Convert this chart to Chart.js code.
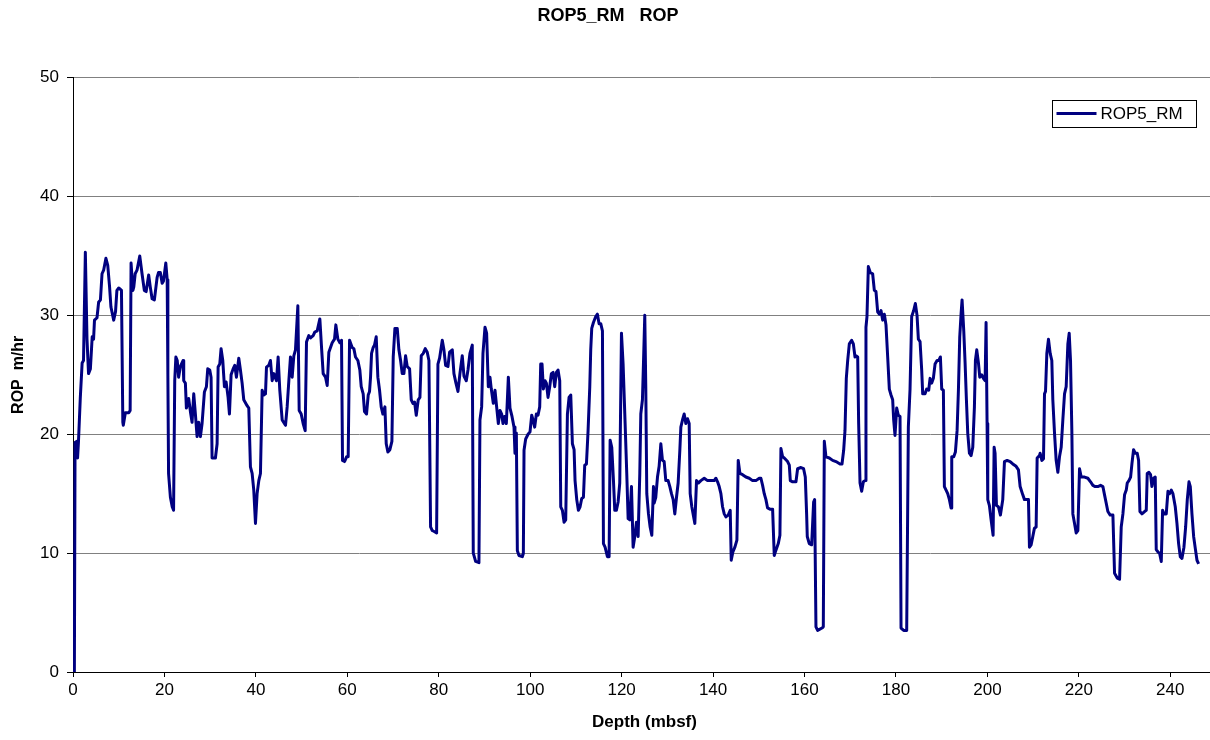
<!DOCTYPE html>
<html>
<head>
<meta charset="utf-8">
<title>ROP5_RM ROP</title>
<script src="https://cdn.jsdelivr.net/npm/chart.js@4.4.0/dist/chart.umd.min.js"></script>
<style>
  html, body { margin: 0; padding: 0; overflow: hidden; background: #fff; }
  #wrap { width: 1216px; height: 740px; }
</style>
</head>
<body>
<div id="wrap"><canvas id="ropChart" width="1216" height="740"></canvas></div>
<script>
// depth (mbsf) and ROP (m/hr)
const depth = [
  0.3, 0.45, 0.8, 1.0, 1.2, 1.6, 2.0, 2.3, 2.7, 3.06, 3.4, 3.8, 4.2, 4.5, 4.7, 5.25, 5.6, 6.0, 6.35, 6.7,
  7.2, 7.6, 8.0, 8.3, 8.9, 9.3, 9.6, 10.0, 10.35, 10.6, 10.9, 11.0, 11.45, 12.2, 12.5, 12.7, 13.1, 13.3, 13.6, 14.0,
  14.6, 15.1, 15.6, 16.0, 16.55, 16.9, 17.3, 17.8, 18.4, 18.7, 19.1, 19.5, 19.8, 20.3, 20.6, 20.75, 20.9, 21.3, 21.7, 22.0,
  22.25, 22.5, 22.8, 23.1,
  23.49, 24.07, 24.22, 24.58, 24.80, 25.31, 25.68, 26.04, 26.41, 26.77, 27.14, 27.50, 27.87, 28.23, 28.74, 29.18, 29.47, 29.91, 30.20, 30.42,
  31.15, 31.52, 31.74, 32.10, 32.39, 32.76, 33.12, 33.49, 33.92, 34.22, 34.58, 35.02, 35.38, 35.75, 36.26, 36.62, 36.99, 37.35, 38.08, 38.45,
  38.81, 39.18, 39.54, 39.91, 40.27, 40.64, 41.00, 41.37, 41.73, 42.10, 42.32, 42.83, 43.19, 43.56, 43.92, 44.50, 44.87, 45.23, 45.75, 46.48,
  46.84, 47.21, 47.57, 47.94, 48.30, 48.66, 49.18, 49.47, 49.91, 50.34, 50.78, 51.07, 51.58, 51.95, 52.53, 52.90, 53.41, 53.99, 54.36, 54.72,
  55.23, 55.60, 55.96, 56.69, 57.20, 57.49, 57.93, 58.37, 58.73, 58.95, 59.39, 59.83, 60.19, 60.49,
  61.06, 61.43, 61.79, 62.31, 62.74, 63.04, 63.47, 63.76, 64.20, 64.57, 64.86, 65.08, 65.30, 65.66, 65.95, 66.32, 66.68, 67.05, 67.41, 67.78,
  68.22, 68.51, 68.87, 69.31, 69.75, 70.04, 70.41, 70.92, 71.28, 71.65, 72.01, 72.38, 72.74, 73.10, 73.62, 73.98, 74.35, 74.71, 75.08, 75.51,
  75.88, 76.17, 76.61, 77.05, 77.48, 77.85, 78.21, 78.58, 79.09, 79.53, 79.82, 80.18, 80.77, 81.13, 81.50, 82.01, 82.37, 82.96, 83.32, 83.76,
  84.20, 84.63, 85.14, 85.51, 86.02, 86.39, 86.82, 87.33, 87.55, 88.06, 88.79, 89.01, 89.38, 89.67, 90.11, 90.47, 90.84, 91.20, 91.49, 91.93,
  92.30, 92.66, 93.03, 93.39, 93.76, 94.05, 94.41, 94.78, 95.22, 95.58, 96.02, 96.46, 96.67, 96.97, 97.19, 97.55, 98.28,
  98.50, 98.65, 99.01, 99.53, 99.96, 100.33, 100.62, 100.98, 101.35, 101.71, 102.08, 102.30, 102.59, 102.88, 103.25, 103.54, 103.90, 104.27, 104.63, 105.00,
  105.36, 105.73, 106.09, 106.46, 106.68, 107.04, 107.41, 107.77, 108.14, 108.50, 108.87, 109.23, 109.60, 109.81, 110.18, 110.54, 110.91, 111.27, 111.64, 111.93,
  112.30, 112.66, 113.03, 113.24, 113.46, 113.83, 114.34, 114.70, 115.07, 115.43, 115.80, 116.02, 116.38, 116.89, 117.26, 117.48, 117.84, 118.21, 118.50, 118.86,
  119.23, 119.59, 119.96, 120.32, 120.76, 121.12, 121.42, 121.78, 122.15, 122.51, 122.88, 123.24, 123.61, 123.97, 124.19, 124.55, 124.77, 125.06, 125.28, 125.50,
  125.87, 126.23, 126.60, 126.96, 127.11, 127.47, 127.84, 128.20, 128.57, 128.93, 129.30, 129.66, 130.17, 130.54, 130.90, 131.27, 131.63, 132.00, 132.36, 132.73,
  132.95, 133.31, 133.68, 134.04, 134.41, 134.77, 134.99, 135.35, 135.72, 136.01, 136.38, 136.81,
  137.33, 138.06, 138.79, 139.52, 140.25, 140.61, 140.98, 141.34, 141.71, 142.07, 142.44, 142.80, 143.31, 143.75, 143.97, 144.33, 144.77, 145.21, 145.50, 145.87,
  146.45, 147.18, 147.91, 148.64, 149.37, 150.10, 150.46, 150.83, 151.19, 151.56, 151.92, 152.43, 153.02, 153.38, 153.75, 154.26, 154.62, 154.84, 155.21, 155.57,
  156.30, 156.67, 156.89, 157.40, 158.13, 158.49, 159.22, 159.80, 160.17, 160.46, 160.60, 161.04, 161.56, 161.99, 162.21, 162.50, 162.87, 163.82, 164.11, 164.33,
  164.69, 165.42, 166.15, 166.88, 167.76, 168.20, 168.56, 168.85, 169.14, 169.44, 169.80, 170.31, 170.68, 171.04, 171.26, 171.63, 171.84, 172.14, 172.50, 172.87,
  173.23, 173.44, 173.66, 173.96, 174.39, 174.90, 175.27, 175.63, 176.00, 176.36, 176.73, 177.09, 177.46, 177.82, 178.19, 178.55, 178.92, 179.28, 179.50, 179.79,
  180.16, 180.52, 180.89, 181.11, 181.69, 182.35, 182.71, 183.08, 183.44, 183.88, 184.24, 184.61, 184.90, 185.27, 185.63, 185.85, 186.36, 186.72, 187.16, 187.46,
  187.82, 188.18, 188.55, 188.99, 189.35, 189.72, 190.01, 190.37, 190.59, 190.96, 191.32, 191.69, 192.05, 192.20, 192.64, 193.00, 193.37, 193.66, 193.95, 194.24,
  194.46, 194.83, 195.12, 195.41, 195.70, 196.07, 196.43, 196.80, 197.16, 197.38, 197.67, 198.04, 198.33, 198.77, 199.13, 199.50, 199.71, 199.93, 200.08, 200.44,
  200.81, 201.25, 201.47, 201.68, 201.98, 202.41, 202.85, 203.36, 203.73, 204.31, 204.97, 205.55, 206.28, 206.79, 207.16, 207.74, 208.11, 208.62, 208.98, 209.20,
  209.57, 209.93, 210.29, 210.66, 210.88, 211.39,
  211.54, 211.91, 212.27, 212.49, 212.71, 213.00, 213.36, 213.73, 214.09, 214.31, 214.68, 215.04, 215.41, 215.77, 216.14, 216.50, 216.87, 217.23, 217.60, 217.89,
  218.18, 218.47, 218.69, 219.06, 219.42, 219.79, 220.15, 220.52, 221.25, 221.97, 222.56, 223.07, 223.58, 224.16, 224.75, 225.26, 225.62, 225.99, 226.35, 226.86,
  227.45, 227.81, 228.40, 228.91, 229.27, 229.64, 230.00, 230.37, 230.59, 230.95, 231.32, 231.61, 231.97, 232.34, 232.77, 233.07, 233.36, 233.80, 234.38, 234.75,
  234.96, 235.33, 235.69, 235.98, 236.35, 236.71, 236.93, 237.30, 237.66, 238.03, 238.32, 238.61, 239.12, 239.49, 239.85, 240.22, 240.58, 241.09, 241.46, 241.82,
  242.19, 242.55, 242.99, 243.36, 243.72, 244.09, 244.38, 244.74, 245.11, 245.47, 245.84, 246.20
];
const rop = [
  0, 19.3, 19.4, 18.0, 19.4, 23.1, 26.0, 26.2, 35.3, 28.0, 25.1, 25.5, 28.2, 28.0, 29.6, 29.8, 31.1, 31.3, 33.5, 33.8,
  34.8, 34.2, 32.4, 30.7, 29.6, 30.3, 32.1, 32.3, 32.2, 32.1, 21.0, 20.75, 21.8, 21.8, 22.0, 34.4, 32.1, 32.4, 33.5, 33.8,
  35.0, 33.5, 32.1, 32.0, 33.4, 32.4, 31.4, 31.3, 33.2, 33.6, 33.6, 32.7, 32.9, 34.4, 33.0, 25.0, 16.7, 14.7, 13.9, 13.6,
  24.5, 26.5, 26.2, 24.8,
  25.7, 26.2, 24.5, 24.3, 22.2, 23.0, 21.9, 21.0, 23.4, 21.7, 19.8, 21.0, 19.8, 20.9, 23.55, 24.0, 25.5, 25.4, 24.8, 18.0,
  18.0, 19.2, 25.65, 25.9, 27.2, 26.2, 24.0, 24.4, 23.1, 21.7, 25.0, 25.5, 25.8, 24.8, 26.4, 25.4, 24.3, 22.9, 22.4, 22.2,
  17.25, 16.7, 15.3, 12.5, 15.0, 16.1, 16.7, 23.7, 23.3, 23.4, 25.65, 25.8, 26.2, 24.5, 25.1, 24.5, 26.5, 23.7, 21.2, 20.75,
  22.3, 24.5, 26.5, 24.8, 26.6, 27.1, 30.8, 22.0, 21.7, 20.9, 20.3, 27.75, 28.3, 28.1, 28.3, 28.6, 28.7, 29.7, 27.3, 25.1,
  24.8, 24.1, 26.9, 27.7, 28.0, 29.2, 28.0, 27.7, 27.9, 17.8, 17.7, 18.1, 18.1, 27.9,
  27.3, 27.2, 26.5, 26.2, 25.4, 24.0, 23.4, 21.9, 21.7, 23.3, 23.6, 24.8, 26.8, 27.3, 27.5, 28.2, 24.8, 23.7, 22.3, 21.7,
  22.3, 19.2, 18.5, 18.7, 19.4, 26.5, 28.9, 28.9, 27.1, 26.2, 25.1, 25.1, 26.6, 25.7, 25.5, 22.9, 22.6, 22.7, 21.6, 22.9,
  23.1, 26.6, 26.8, 27.2, 26.9, 26.2, 12.2, 11.9, 11.8, 11.7, 25.9, 26.4, 27.9, 27.1, 25.8, 25.7, 26.9, 27.1, 25.1, 24.3,
  23.6, 25.1, 26.6, 24.9, 24.5, 25.4, 26.8, 27.5, 10.0, 9.3, 9.2, 21.2, 22.3, 26.8, 29.0, 28.5, 24.0, 24.8, 23.8, 22.6,
  23.7, 22.3, 20.9, 22.0, 21.7, 20.9, 21.5, 20.9, 24.8, 22.2, 21.5, 20.6, 18.4, 20.1, 10.2, 9.8, 9.7,
  9.97, 18.65, 19.6, 20.0, 20.2, 21.6, 21.2, 20.6, 21.7, 21.6, 22.3, 25.9, 25.9, 23.8, 24.5, 24.3, 23.1, 24.0, 25.1, 25.2,
  24.0, 25.2, 25.4, 24.5, 13.9, 13.6, 12.6, 12.8, 21.7, 23.1, 23.3, 19.2, 18.7, 16.1, 14.5, 13.6, 13.9, 14.6, 14.7, 17.4,
  17.5, 20.3, 24.0, 27.1, 28.9, 29.4, 29.9, 30.1, 29.3, 29.3, 28.7, 10.8, 10.5, 9.7, 9.7, 19.5, 18.9, 16.1, 13.6, 13.6,
  14.3, 15.9, 28.5, 25.9, 20.9, 16.7, 12.9, 12.8, 15.6, 10.5, 11.4, 12.6, 11.4, 16.7, 21.7, 22.9, 25.9, 30.0, 24.0, 15.0,
  13.3, 12.2, 11.5, 15.6, 14.2, 14.7, 16.4, 17.3, 19.2, 17.8, 17.7, 16.1, 16.1, 15.6, 15.0, 14.5, 13.3, 14.7, 15.9, 18.65,
  20.6, 21.2, 21.7, 20.9, 21.3, 20.9, 15.0, 13.9, 13.1, 12.5, 16.1, 15.9,
  16.1, 16.3, 16.1, 16.1, 16.1, 16.3, 16.0, 15.6, 15.0, 13.9, 13.3, 13.05, 13.2, 13.6, 9.4, 10.1, 10.5, 11.1, 17.8, 16.7,
  16.6, 16.4, 16.3, 16.1, 16.1, 16.3, 16.3, 15.7, 15.0, 14.5, 13.8, 13.7, 13.7, 9.8, 10.25, 10.8, 11.5, 18.8, 18.1, 18.0,
  17.7, 17.4, 16.1, 16.0, 16.0, 17.1, 17.2, 17.1, 16.4, 13.3, 11.4, 10.8, 10.7, 14.3, 14.5, 3.8, 3.5, 3.7, 3.8, 19.4,
  18.1, 18.0, 17.8, 17.7, 17.5, 17.5, 18.65, 20.3, 24.7, 26.2, 27.6, 27.9, 27.6, 26.5, 26.6, 26.5, 20.9, 15.9, 15.2, 16.0,
  16.1, 29.0, 29.9, 34.1, 33.6, 33.5, 32.1, 32.0, 30.3, 30.1, 30.4, 29.6, 30.1, 29.2, 26.5, 23.8, 23.3, 22.9, 21.2, 19.9,
  22.2, 21.6, 21.5, 3.7, 3.5, 3.5, 20.6, 23.8, 29.9, 30.4, 31.0, 30.0, 28.0, 27.8, 25.4, 23.4, 23.4, 23.8, 23.7, 24.7,
  24.3, 24.7, 25.9, 26.2, 26.2, 26.5, 23.8, 23.7, 15.6, 15.3, 15.0, 14.5, 13.8, 18.1, 18.1, 18.5, 20.3, 23.7, 28.2, 30.1,
  31.3, 28.7, 26.0, 22.9, 20.1, 18.4, 18.2, 18.9, 22.3, 26.2, 27.1, 26.0, 24.8, 25.0, 24.7, 24.5, 29.4, 20.9, 14.5, 14.0,
  12.8, 11.5, 18.9, 18.4, 14.0, 13.9, 13.2, 14.5, 17.7, 17.8, 17.7, 17.5, 17.3, 17.0, 15.6, 14.9, 14.5, 14.5, 14.5, 10.5,
  10.7, 11.4, 12.1, 12.2, 18.0, 18.2,
  18.4, 17.8, 17.95, 23.4, 23.6, 26.8, 28.0, 26.8, 26.2, 22.9, 20.1, 17.8, 16.8, 18.1, 18.9, 21.2, 23.4, 24.0, 27.6, 28.5,
  26.2, 20.3, 13.3, 12.5, 11.7, 11.9, 17.1, 16.4, 16.4, 16.3, 16.0, 15.7, 15.6, 15.6, 15.7, 15.6, 14.9, 14.2, 13.5, 13.2,
  13.2, 8.3, 7.9, 7.8, 12.2, 13.3, 14.9, 15.3, 15.9, 16.1, 16.4, 17.5, 18.7, 18.4, 18.4, 17.8, 13.5, 13.3, 13.5, 13.6,
  16.7, 16.8, 16.6, 15.6, 16.3, 16.4, 10.3, 10.1, 10.0, 9.3, 13.6, 13.3, 13.3, 15.2, 15.0, 15.3, 15.0, 13.9, 12.5, 10.8,
  9.7, 9.55, 10.5, 12.2, 14.5, 16.0, 15.6, 13.3, 11.4, 10.4, 9.4, 9.1
];

const seriesName = "ROP5_RM";
const chartTitle = "ROP5_RM   ROP";
const xTitle = "Depth (mbsf)";
const yTitle = "ROP  m/hr";

const fontFamily = "Arial, 'Liberation Sans', sans-serif";

// legend drawn as a framed box inside the plot, like the original
const boxLegend = {
  id: "boxLegend",
  afterDraw(chart) {
    const c = chart.ctx;
    const ds = chart.data.datasets[0];
    const area = chart.chartArea;
    const w = 144, h = 27;
    const x = Math.round(area.right - 164) + 0.5;
    const y = Math.round(area.top + 22) + 0.5;
    c.save();
    c.fillStyle = "#fff";
    c.fillRect(x, y, w, h);
    c.strokeStyle = "#000";
    c.lineWidth = 1;
    c.strokeRect(x, y, w, h);
    c.strokeStyle = ds.borderColor;
    c.lineWidth = 3;
    c.beginPath();
    c.moveTo(x + 4, y + 13);
    c.lineTo(x + 44, y + 13);
    c.stroke();
    c.fillStyle = "#000";
    c.font = "17px " + fontFamily;
    c.textBaseline = "middle";
    c.fillText(ds.label, x + 48, y + 14);
    c.restore();
  }
};

const ctx = document.getElementById("ropChart").getContext("2d");
new Chart(ctx, {
  type: "line",
  data: {
    datasets: [
      {
        label: seriesName,
        data: depth.map((d, i) => ({ x: d, y: rop[i] })),
        borderColor: "#000080",
        backgroundColor: "#000080",
        borderWidth: 3,
        borderJoinStyle: "round",
        pointRadius: 0,
        tension: 0,
        fill: false,
      },
    ],
  },
  options: {
    responsive: false,
    animation: false,
    layout: { padding: 0 },
    plugins: {
      legend: { display: false },
      tooltip: { enabled: false },
      title: {
        display: true,
        text: chartTitle,
        color: "#000",
        font: { family: fontFamily, size: 18, weight: "bold" },
        padding: { top: 5, bottom: 51 },
      },
    },
    scales: {
      x: {
        type: "linear",
        min: 0,
        max: 250,
        ticks: {
          stepSize: 20,
          includeBounds: false,
          color: "#000",
          font: { family: fontFamily, size: 17 },
          padding: 3,
          maxRotation: 0,
        },
        grid: {
          drawOnChartArea: false,
          drawTicks: true,
          tickLength: 5,
          tickColor: "#000",
        },
        border: { color: "#000", width: 1 },
        title: {
          display: true,
          text: xTitle,
          color: "#000",
          font: { family: fontFamily, size: 17, weight: "bold" },
          padding: { top: 0, bottom: 7 },
        },
        afterFit: (s) => { s.height = 68; },
      },
      y: {
        min: 0,
        max: 50,
        ticks: {
          stepSize: 10,
          color: "#000",
          font: { family: fontFamily, size: 17 },
          padding: 8,
        },
        grid: {
          color: "#808080",
          tickColor: "#000",
          tickLength: 6,
        },
        border: { color: "#000", width: 1 },
        title: {
          display: true,
          text: yTitle,
          color: "#000",
          font: { family: fontFamily, size: 16, weight: "bold" },
          padding: { top: 9, bottom: 0 },
        },
        afterFit: (s) => { s.width = 73; },
      },
    },
  },
  plugins: [boxLegend],
});
</script>
</body>
</html>
